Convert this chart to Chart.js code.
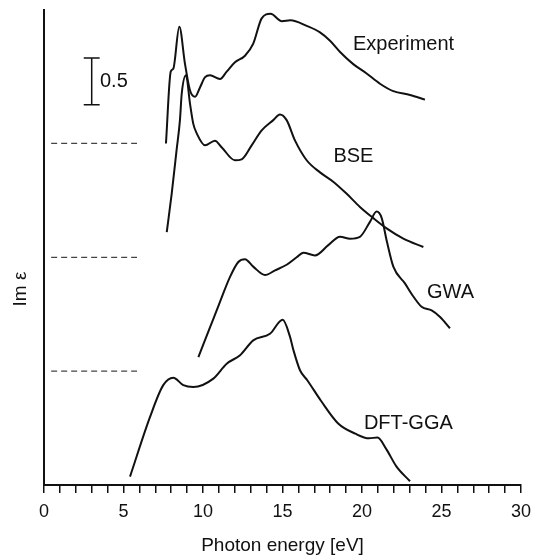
<!DOCTYPE html>
<html>
<head>
<meta charset="utf-8">
<script src="https://cdn.jsdelivr.net/npm/chart.js@4"></script>
<style>
  html, body { margin: 0; padding: 0; background: #fff; }
  #wrap { width: 533px; height: 555px; }
</style>
</head>
<body>
<div id="wrap"><canvas id="myChart"></canvas></div>
<script>
// photon energy (eV) / Im eps (offset)
const expX = [7.67, 7.97, 8.13, 8.51, 8.87, 9.18, 9.5, 9.81, 10.13, 10.44, 11.07, 11.49, 12.01, 12.64, 13.16, 13.69, 14.25, 14.96, 15.5, 16.52, 17.36, 17.99, 18.62, 19.45, 20.29, 21.13, 21.97, 23.02, 23.96];
const expY = [3.66, 4.43, 4.46, 4.91, 4.51, 4.23, 4.16, 4.26, 4.37, 4.39, 4.35, 4.43, 4.53, 4.60, 4.73, 5.0, 5.05, 4.97, 4.98, 4.92, 4.85, 4.76, 4.64, 4.51, 4.41, 4.30, 4.22, 4.18, 4.13];

const bseX = [7.72, 8.03, 8.34, 8.55, 8.66, 8.93, 9.18, 9.39, 9.6, 10.13, 10.75, 11.17, 12.01, 12.43, 13.06, 13.69, 14.42, 14.84, 15.26, 15.79, 16.52, 17.36, 18.19, 19.04, 19.87, 20.71, 21.55, 22.6, 23.86];
const bseY = [2.71, 3.12, 3.59, 3.91, 4.19, 4.39, 4.09, 3.87, 3.77, 3.64, 3.69, 3.62, 3.48, 3.49, 3.64, 3.80, 3.91, 3.97, 3.91, 3.69, 3.48, 3.35, 3.25, 3.12, 2.98, 2.86, 2.75, 2.64, 2.55];

const gwaX = [9.71, 10.44, 10.86, 11.70, 12.22, 12.64, 13.16, 13.90, 14.53, 15.26, 15.89, 16.31, 17.04, 17.88, 18.62, 19.25, 19.87, 20.5, 20.92, 21.24, 21.55, 21.97, 22.7, 23.23, 23.75, 24.38, 24.91, 25.53];
const gwaY = [1.37, 1.69, 1.87, 2.23, 2.39, 2.42, 2.34, 2.25, 2.30, 2.36, 2.44, 2.49, 2.46, 2.57, 2.66, 2.64, 2.66, 2.82, 2.93, 2.86, 2.62, 2.34, 2.16, 2.02, 1.91, 1.87, 1.80, 1.68];

const dftX = [5.41, 6.67, 7.50, 8.13, 8.76, 9.39, 10.65, 11.49, 12.33, 13.16, 14.21, 15.01, 15.47, 15.68, 16.1, 16.57, 17.43, 18.50, 19.58, 20.44, 20.98, 21.51, 22.16, 23.02];
const dftY = [0.09, 0.73, 1.07, 1.15, 1.07, 1.05, 1.14, 1.30, 1.39, 1.55, 1.62, 1.77, 1.59, 1.45, 1.23, 1.12, 0.90, 0.66, 0.55, 0.50, 0.51, 0.39, 0.20, 0.04];

// dashed reference levels (BSE, GWA, DFT-GGA) and the 0.5 scale bar
const baseLevels = [3.66, 2.44, 1.22];
const baseFrom = 0.45, baseTo = 5.85;
const barX = 3, barTop = 4.575, barSize = 0.5;

const curveNames = ['Experiment', 'BSE', 'GWA', 'DFT-GGA'];
const nameX = [19.43, 18.2, 24.09, 20.12];
const nameY = [4.72, 3.52, 2.06, 0.66];

const xTicks = [0, 5, 10, 15, 20, 25, 30];

const FONT = "'Liberation Sans', Arial, Helvetica, sans-serif";

function pts(xs, ys) {
    return xs.map((x, i) => ({ x: x, y: ys[i] }));
}

function curve(xs, ys) {
    return {
        data: pts(xs, ys),
        borderColor: '#111',
        borderWidth: 2,
        pointRadius: 0,
        cubicInterpolationMode: 'monotone',
        fill: false
    };
}

const datasets = [
    curve(expX, expY),
    curve(bseX, bseY),
    curve(gwaX, gwaY),
    curve(dftX, dftY)
];

baseLevels.forEach(function (lv) {
    datasets.push({
        data: [{ x: baseFrom, y: lv }, { x: baseTo, y: lv }],
        borderColor: '#444',
        borderWidth: 1.3,
        borderDash: [6, 4],
        pointRadius: 0
    });
});

const barBottom = barTop - barSize;
datasets.push({
    data: [
        { x: barX - 0.5, y: barTop }, { x: barX + 0.5, y: barTop }, { x: barX, y: null },
        { x: barX, y: barTop }, { x: barX, y: barBottom }, { x: barX, y: null },
        { x: barX - 0.5, y: barBottom }, { x: barX + 0.5, y: barBottom }
    ],
    borderColor: '#111',
    borderWidth: 1.5,
    pointRadius: 0,
    spanGaps: false
});

const textPlugin = {
    id: 'curveText',
    afterDatasetsDraw(chart) {
        const ctx = chart.ctx;
        const xs = chart.scales.x, ys = chart.scales.y;
        ctx.save();
        ctx.fillStyle = '#111';
        ctx.font = '20px ' + FONT;
        ctx.textAlign = 'left';
        ctx.textBaseline = 'middle';
        curveNames.forEach(function (n, i) {
            ctx.fillText(n, xs.getPixelForValue(nameX[i]), ys.getPixelForValue(nameY[i]));
        });
        ctx.fillText('0.5', xs.getPixelForValue(barX + 0.52), ys.getPixelForValue(barTop - barSize / 2));
        // y axis title
        ctx.font = '19px ' + FONT;
        ctx.translate(21, ys.getPixelForValue(2.1));
        ctx.rotate(-Math.PI / 2);
        ctx.textAlign = 'center';
        ctx.fillText('Im ε', 0, 0);
        ctx.restore();
    }
};

new Chart(document.getElementById('myChart'), {
    type: 'line',
    data: { datasets: datasets },
    options: {
        responsive: true,
        maintainAspectRatio: false,
        animation: false,
        layout: { padding: { top: 10, right: 12, left: 0, bottom: 0 } },
        scales: {
            x: {
                type: 'linear',
                min: 0,
                max: 30,
                afterFit: function (s) {
                    s.height = 70;
                    s.paddingLeft = 0;
                    s.paddingRight = 0;
                },
                border: { display: true, color: '#111', width: 2 },
                grid: {
                    display: true,
                    drawOnChartArea: false,
                    drawTicks: true,
                    tickLength: 8,
                    color: '#111',
                    lineWidth: 1.5
                },
                ticks: {
                    stepSize: 1,
                    autoSkip: false,
                    maxRotation: 0,
                    padding: 8,
                    color: '#111',
                    font: { family: FONT, size: 18 },
                    callback: function (v) { return xTicks.includes(v) ? String(v) : ''; }
                },
                title: {
                    display: true,
                    text: 'Photon energy [eV]',
                    color: '#111',
                    padding: 0,
                    font: { family: FONT, size: 19, lineHeight: 1 }
                }
            },
            y: {
                type: 'linear',
                min: 0,
                max: 5.09,
                afterFit: function (s) { s.width = 44; },
                border: { display: true, color: '#111', width: 2 },
                grid: { display: false },
                ticks: { display: false }
            }
        },
        plugins: {
            legend: { display: false },
            tooltip: { enabled: false }
        }
    },
    plugins: [textPlugin]
});
</script>
</body>
</html>
